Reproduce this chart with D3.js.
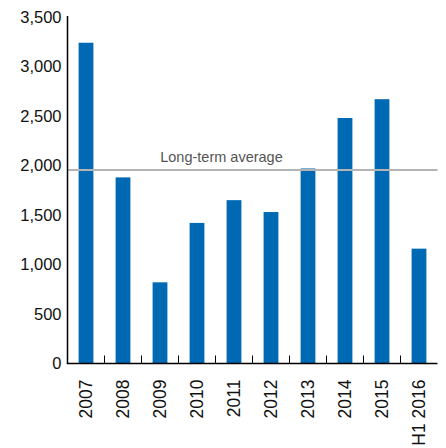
<!DOCTYPE html>
<html><head><meta charset="utf-8">
<script src="https://cdn.jsdelivr.net/npm/d3@7"></script>
<style>body{margin:0;background:#fff;}svg{display:block;}</style>
</head><body>
<svg id="c" width="446" height="448"></svg>
<script>
const categories = ["2007","2008","2009","2010","2011","2012","2013","2014","2015","H1 2016"];
const values = [3240,1880,820,1420,1650,1530,1970,2480,2670,1160];
const yTicks = [0,500,1000,1500,2000,2500,3000,3500];
const averageValue = 1955;
const averageLabel = "Long-term average";

(function(){
const svg = d3.select("#c");
const pLeft = 67.5, pRight = 437.5, pTop = 17, pBottom = 363.5;
const x = d3.scaleBand().domain(categories).range([pLeft, pRight]).paddingInner(0.6).paddingOuter(0.3);
const y = d3.scaleLinear().domain([0,3500]).range([pBottom, pTop]);

// bars
svg.append("g").selectAll("rect").data(values).join("rect")
  .attr("x",(d,i)=>x(categories[i]))
  .attr("y",d=>y(d))
  .attr("width",x.bandwidth())
  .attr("height",d=>pBottom-y(d))
  .attr("fill","#0069b3");

// average line
svg.append("line").attr("x1",pLeft).attr("x2",pRight)
  .attr("y1",y(averageValue)).attr("y2",y(averageValue))
  .attr("stroke","#b4b4b4").attr("stroke-width",2);
svg.append("text").attr("x",(pLeft+pRight)/2 - 31).attr("y",y(averageValue)-7.5)
  .attr("text-anchor","middle").attr("fill","#555")
  .style("font-family","Liberation Sans, Arial, sans-serif").style("font-size","14.5px")
  .text(averageLabel);

// y axis
const yAxis = d3.axisLeft(y).tickValues(yTicks).tickSize(0).tickPadding(6).tickFormat(d3.format(","));
const gy = svg.append("g").attr("transform",`translate(${pLeft},0)`).call(yAxis);
gy.select(".domain").attr("d",`M0,${pTop-1}V${pBottom}`).attr("stroke","#000").attr("stroke-width",1.5);
gy.selectAll("text").style("font-family","Liberation Sans, Arial, sans-serif").style("font-size","16.5px").attr("fill","#111");

// x axis baseline with inward ticks at band boundaries
const step = x.step();
const bounds = categories.slice(1).map(c => x(c) - (step - x.bandwidth())/2);
svg.append("line").attr("x1",pLeft-0.75).attr("x2",pRight).attr("y1",pBottom).attr("y2",pBottom)
  .attr("stroke","#000").attr("stroke-width",1.5);
svg.append("g").selectAll("line").data(bounds).join("line")
  .attr("x1",d=>d).attr("x2",d=>d).attr("y1",pBottom).attr("y2",pBottom-8)
  .attr("stroke","#000").attr("stroke-width",1);

// x labels rotated
svg.append("g").selectAll("text").data(categories).join("text")
  .attr("transform",c=>`translate(${x(c)+x.bandwidth()/2+6},${pBottom+16}) rotate(-90)`)
  .attr("text-anchor","end")
  .style("font-family","Liberation Sans, Arial, sans-serif").style("font-size","17.5px").attr("fill","#111")
  .text(c=>c);
})();
</script>
</body></html>
